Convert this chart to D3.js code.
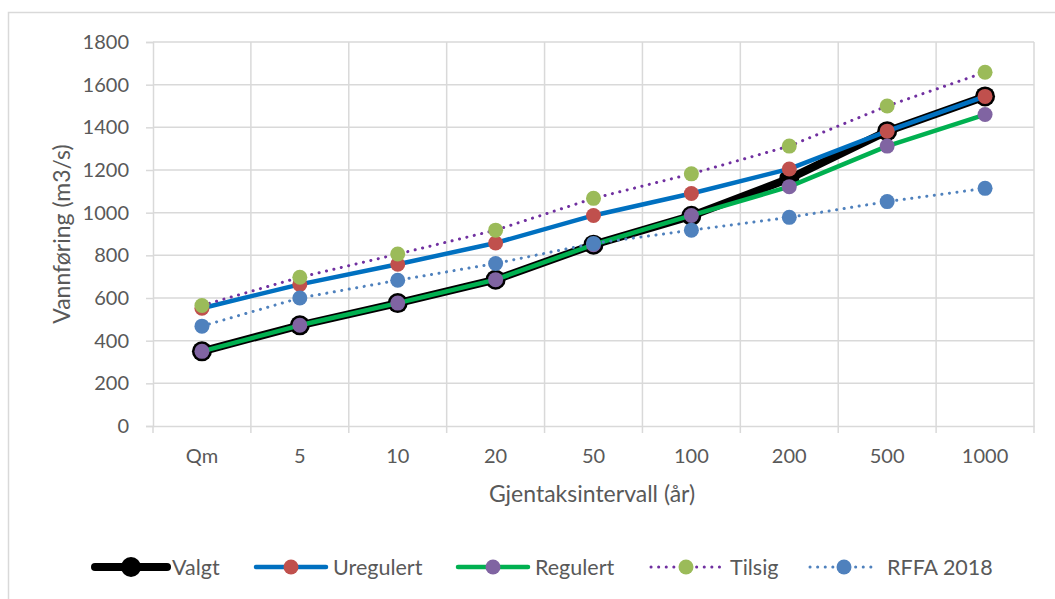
<!DOCTYPE html>
<html>
<head>
<meta charset="utf-8">
<script src="https://cdn.jsdelivr.net/npm/d3@7"></script>
<style>
  html, body { margin: 0; padding: 0; background: #fff; }
  svg { display: block; }
  text { font-family: "Lato", "Open Sans", "Liberation Sans", sans-serif; fill: #595959; }
</style>
</head>
<body>
<svg id="chart" width="1055" height="599"></svg>
<script>
// Return periods (x categories)
const categories = ["Qm", "5", "10", "20", "50", "100", "200", "500", "1000"];

// Flood discharge (m3/s) per series
const valgt     = [350, 472, 576, 686, 850, 985, 1160, 1382, 1545];
const uregulert = [552, 664, 758, 858, 987, 1090, 1205, 1382, 1545];
const regulert  = [350, 472, 576, 686, 850, 987, 1122, 1312, 1460];
const tilsig    = [565, 697, 806, 918, 1067, 1182, 1312, 1500, 1658];
const rffa      = [468, 600, 683, 762, 856, 918, 978, 1052, 1114];

const yTicks = [0, 200, 400, 600, 800, 1000, 1200, 1400, 1600, 1800];

const series = [
  { name: "Valgt",     values: valgt,     line: "#000000", marker: "#000000", width: 8,   dash: null,  r: 10 },
  { name: "Uregulert", values: uregulert, line: "#0070C0", marker: "#C0504D", width: 4.5, dash: null,  r: 7.5 },
  { name: "Regulert",  values: regulert,  line: "#00B050", marker: "#8064A2", width: 4.5, dash: null,  r: 7.5 },
  { name: "Tilsig",    values: tilsig,    line: "#7030A0", marker: "#9BBB59", width: 3,   dash: "0.1 7.5", r: 7.5 },
  { name: "RFFA 2018", values: rffa,      line: "#4F81BD", marker: "#4F81BD", width: 3,   dash: "0.1 7.5", r: 7.5 }
];

const svg = d3.select("#chart");

// outer chart frame
svg.append("rect")
  .attr("x", 8.5).attr("y", 12.5).attr("width", 1100).attr("height", 700)
  .attr("fill", "none").attr("stroke", "#D9D9D9").attr("stroke-width", 1.5);

const plot = { left: 153, right: 1034, top: 42, bottom: 426 };

const x = d3.scaleBand().domain(categories).range([plot.left, plot.right]).padding(0);
const y = d3.scaleLinear().domain([0, 1800]).range([plot.bottom, plot.top]);

const grid = svg.append("g");

// horizontal gridlines
grid.selectAll("line.h").data(yTicks.slice(1)).enter().append("line")
  .attr("x1", plot.left).attr("x2", plot.right)
  .attr("y1", d => y(d)).attr("y2", d => y(d))
  .attr("stroke", "#D9D9D9").attr("stroke-width", 1.5);

// vertical gridlines at category boundaries
const bounds = categories.map(c => x(c) + x.bandwidth());
grid.selectAll("line.v").data(bounds).enter().append("line")
  .attr("x1", d => d).attr("x2", d => d)
  .attr("y1", plot.top).attr("y2", plot.bottom)
  .attr("stroke", "#D9D9D9").attr("stroke-width", 1.5);

const tickFont = "20px";

// y axis
const yAxis = svg.append("g")
  .attr("transform", `translate(${plot.left},0)`)
  .call(d3.axisLeft(y).tickValues(yTicks).tickFormat(d3.format("d")).tickSize(7).tickPadding(17));
yAxis.select(".domain").attr("stroke", "#D9D9D9").attr("stroke-width", 1.5);
yAxis.selectAll(".tick line").attr("stroke", "#D9D9D9").attr("stroke-width", 1.5);
yAxis.selectAll(".tick text").style("font-size", tickFont).attr("fill", "#595959")
  .style("font-family", "Lato, 'Open Sans', sans-serif");

// x axis
const xAxis = svg.append("g")
  .attr("transform", `translate(0,${plot.bottom})`)
  .call(d3.axisBottom(x).tickSize(0).tickPadding(23));
xAxis.select(".domain").attr("stroke", "#D9D9D9").attr("stroke-width", 1.5);
xAxis.selectAll(".tick text").style("font-size", tickFont).attr("fill", "#595959")
  .style("font-family", "Lato, 'Open Sans', sans-serif");
// x tick marks at category boundaries
xAxis.selectAll("line.bt").data([plot.left].concat(bounds)).enter().append("line")
  .attr("x1", d => d).attr("x2", d => d).attr("y1", 0).attr("y2", 7)
  .attr("stroke", "#D9D9D9").attr("stroke-width", 1.5);

// axis titles
svg.append("text")
  .attr("x", 592).attr("y", 502)
  .attr("text-anchor", "middle").style("font-size", "23px")
  .text("Gjentaksintervall (år)");
svg.append("text")
  .attr("transform", `translate(70,234) rotate(-90)`)
  .attr("text-anchor", "middle").style("font-size", "23px")
  .text("Vannføring (m3/s)");

const cx = c => x(c) + x.bandwidth() / 2;
const lineGen = vals => d3.line().x((d, i) => cx(categories[i])).y(d => y(d))(vals);

// series: line then markers
series.forEach(s => {
  const g = svg.append("g");
  g.append("path")
    .attr("d", lineGen(s.values))
    .attr("fill", "none")
    .attr("stroke", s.line)
    .attr("stroke-width", s.width)
    .attr("stroke-linecap", "round")
    .attr("stroke-linejoin", "round")
    .attr("stroke-dasharray", s.dash);
  g.selectAll("circle").data(s.values).enter().append("circle")
    .attr("cx", (d, i) => cx(categories[i]))
    .attr("cy", d => y(d))
    .attr("r", s.r)
    .attr("fill", s.marker);
});

// legend
const legendPos = [
  { x0: 95,  x1: 167, tx: 172 },
  { x0: 256, x1: 326, tx: 333 },
  { x0: 458, x1: 528, tx: 535 },
  { x0: 651, x1: 721, tx: 730 },
  { x0: 810, x1: 878, tx: 887 }
];
const ly = 567;
series.forEach((s, i) => {
  const p = legendPos[i];
  const g = svg.append("g");
  g.append("line")
    .attr("x1", p.x0).attr("x2", p.x1).attr("y1", ly).attr("y2", ly)
    .attr("stroke", s.line).attr("stroke-width", s.width)
    .attr("stroke-linecap", "round")
    .attr("stroke-dasharray", s.dash);
  g.append("circle")
    .attr("cx", (p.x0 + p.x1) / 2).attr("cy", ly).attr("r", s.r)
    .attr("fill", s.marker);
  g.append("text")
    .attr("x", p.tx).attr("y", ly + 7.5)
    .style("font-size", "21.5px")
    .text(s.name);
});
</script>
</body>
</html>
